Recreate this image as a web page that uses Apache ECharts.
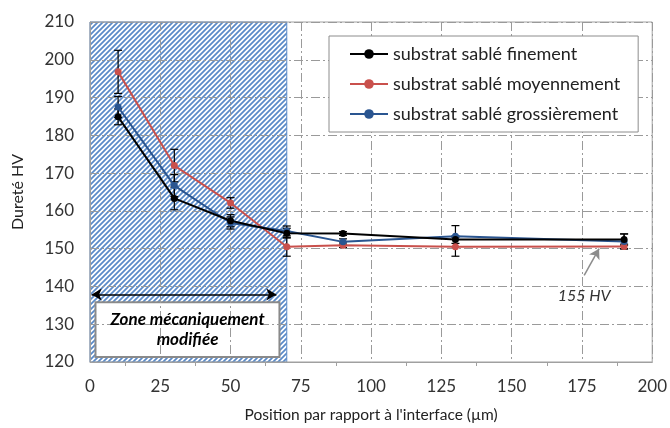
<!DOCTYPE html>
<html><head><meta charset="utf-8">
<script src="https://cdn.jsdelivr.net/npm/echarts@6/dist/echarts.min.js"></script>
<style>html,body{margin:0;padding:0;background:#fff}#c{width:670px;height:428px}</style>
</head><body><div id="c"></div>
<script>
// ---- data ----
var positions = [10, 30, 50, 70, 90, 130, 190];
var fineVals   = [184.9, 163.3, 157.4, 154.1, 154.0, 152.4, 152.4];
var fineErr    = [2.1, 3.0, 1.6, 1.3, 0.5, 1.0, 1.5];
var moyenVals  = [196.8, 172.0, 162.1, 150.5, 150.9, 150.5, 150.6];
var moyenErr   = [5.7, 4.3, 1.4, 2.5, 0.6, 2.5, 0.6];
var grossVals  = [187.5, 166.7, 156.8, 154.7, 151.8, 153.3, 151.9];
var grossErr   = [2.8, 2.9, 1.6, 1.3, 0.8, 2.8, 2.0];
var seriesNames = ['substrat sablé finement', 'substrat sablé moyennement', 'substrat sablé grossièrement'];
var seriesColors = ['#000000', '#C9504C', '#2A5590'];
var xTicks = [0, 25, 50, 75, 100, 125, 150, 175, 200];
var yTicks = [120, 130, 140, 150, 160, 170, 180, 190, 200, 210];
var zoneRange = [0, 70];
var zoneLabel = 'Zone mécaniquement\nmodifiée';
var hvLabel = '155 HV';

// hatch pattern
var pc = document.createElement('canvas');
pc.width = 5; pc.height = 5;
var g = pc.getContext('2d');
g.fillStyle = '#fff'; g.fillRect(0,0,5,5);
g.strokeStyle = '#5A8AC8'; g.lineWidth = 1.75;
g.beginPath();
g.moveTo(-1,6); g.lineTo(6,-1);
g.moveTo(-2,2); g.lineTo(2,-2);
g.moveTo(3,7); g.lineTo(7,3);
g.stroke();

var FONT = 'Lato';
function pts(vals){ return positions.map(function(x,i){ return [x, vals[i]]; }); }
function errs(vals, e){ return positions.map(function(x,i){ return [x, vals[i]-e[i], vals[i]+e[i]]; }); }

function errSeries(vals, e, color){
  return {
    type: 'custom', z: 3, silent: true,
    data: errs(vals, e),
    renderItem: function(params, api){
      var p1 = api.coord([api.value(0), api.value(1)]);
      var p2 = api.coord([api.value(0), api.value(2)]);
      var w = 4;
      var st = {stroke: color, lineWidth: 1.2};
      return {type:'group', children:[
        {type:'line', shape:{x1:p1[0],y1:p1[1],x2:p2[0],y2:p2[1]}, style:st},
        {type:'line', shape:{x1:p1[0]-w,y1:p1[1],x2:p1[0]+w,y2:p1[1]}, style:st},
        {type:'line', shape:{x1:p2[0]-w,y1:p2[1],x2:p2[0]+w,y2:p2[1]}, style:st}
      ]};
    }
  };
}
function lineSeries(name, vals, color){
  return {
    name: name, type: 'line', z: 4, data: pts(vals),
    symbol: 'circle', symbolSize: 7,
    lineStyle: {color: color, width: 2},
    itemStyle: {color: color},
    emphasis: {disabled: true}
  };
}

var chart = echarts.init(document.getElementById('c'));
var dashGrid = {color: '#9a9a9a', width: 1, type: [9, 3, 2, 3]};
chart.setOption({
  animation: false,
  grid: {left: 90, right: 16, top: 22, bottom: 63, show: true, borderColor: '#a0a0a0', borderWidth: 1, z: 0},
  legend: {
    data: seriesNames, orient: 'vertical', left: 329, top: 36,
    padding: [9, 18, 9, 20], itemGap: 12, itemWidth: 38, itemHeight: 12,
    backgroundColor: '#fff', borderColor: '#8c8c8c', borderWidth: 1,
    textStyle: {fontFamily: FONT, fontSize: 18, color: '#222'}
  },
  xAxis: {
    type: 'value', min: 0, max: 200, interval: 25,
    name: 'Position par rapport à l\'interface (µm)', nameLocation: 'middle', nameGap: 45,
    nameTextStyle: {fontFamily: FONT, fontSize: 15.5, color: '#222'},
    axisLine: {lineStyle: {color: '#a0a0a0'}},
    axisTick: {show: false},
    minorTick: {show: true, splitNumber: 2, length: 4, lineStyle: {color: '#a0a0a0'}},
    axisLabel: {fontFamily: FONT, fontSize: 17, color: '#333', margin: 16},
    splitLine: {show: true, lineStyle: dashGrid}
  },
  yAxis: {
    type: 'value', min: 120, max: 210, interval: 10,
    name: 'Dureté HV', nameLocation: 'middle', nameGap: 64,
    nameTextStyle: {fontFamily: FONT, fontSize: 16, color: '#222'},
    axisLine: {show: true, lineStyle: {color: '#a0a0a0'}},
    axisTick: {show: false},
    axisLabel: {fontFamily: FONT, fontSize: 17, color: '#333', margin: 16},
    splitLine: {show: true, lineStyle: dashGrid}
  },
  series: [
    {
      type: 'line', data: [], z: -1, silent: true,
      markArea: {
        silent: true, z: -1,
        data: [
          [{xAxis: zoneRange[0], itemStyle: {color: {image: pc, repeat: 'repeat'}, borderColor: '#5A8AC8', borderWidth: 1}}, {xAxis: zoneRange[1]}],
          [{coord: [1.95, 135.8], itemStyle: {color: '#fff', borderColor: '#8a8a8a', borderWidth: 2}}, {coord: [67.4, 121.3]}]
        ],
        label: {show: false}
      }
    },
    errSeries(fineVals, fineErr, '#000'),
    errSeries(moyenVals, moyenErr, '#000'),
    errSeries(grossVals, grossErr, '#000'),
    lineSeries(seriesNames[1], moyenVals, seriesColors[1]),
    lineSeries(seriesNames[2], grossVals, seriesColors[2]),
    lineSeries(seriesNames[0], fineVals, seriesColors[0]),
    {
      type: 'line', data: [], z: 5, silent: true,
      markLine: {
        silent: true, symbolSize: [9, 10], label: {show: false},
        data: [
          [{coord: [0.6, 137.9], symbol: 'arrow', lineStyle: {color: '#000', width: 1.5, type: 'solid'}}, {coord: [66.3, 137.9], symbol: 'arrow'}],
          [{coord: [175.8, 142.9], symbol: 'none', lineStyle: {color: '#8c8c8c', width: 1.5, type: 'solid'}}, {coord: [181.1, 150.0], symbol: 'arrow'}]
        ]
      }
    }
  ]
});

function px(v){ return chart.convertToPixel({gridIndex: 0}, v); }
var zc = px([34.7, 128.5]);
var hv = px([175.8, 137.6]);
chart.setOption({
  graphic: [
    {type: 'text', x: zc[0], y: zc[1], z: 10,
     style: {text: zoneLabel, fontFamily: FONT, fontSize: 17, fontWeight: 'bold', fontStyle: 'italic', fill: '#000', align: 'center', verticalAlign: 'middle', lineHeight: 20}},
    {type: 'text', x: hv[0], y: hv[1], z: 10,
     style: {text: hvLabel, fontFamily: FONT, fontSize: 16, fontStyle: 'italic', fill: '#333', align: 'center', verticalAlign: 'middle'}}
  ]
});
</script></body></html>
